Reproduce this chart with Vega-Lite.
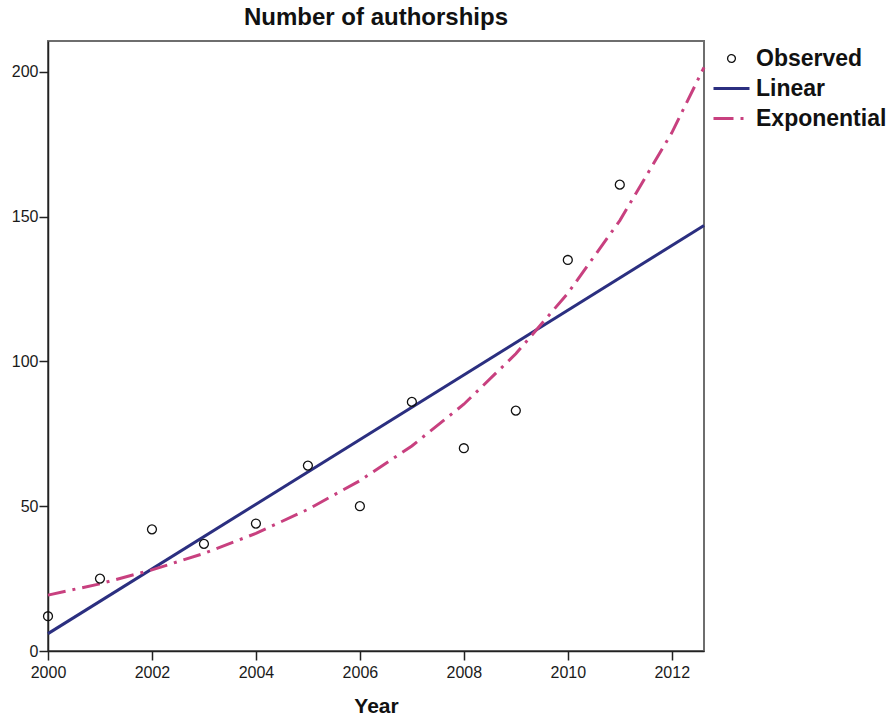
{
  "$schema": "https://vega.github.io/schema/vega-lite/v6.json",
  "width": 656,
  "height": 610,
  "autosize": {"type": "none"},
  "padding": {"left": 48, "top": 41, "right": 190, "bottom": 69},
  "background": "white",
  "config": {
    "font": "Liberation Sans",
    "view": {"stroke": "#6e6e6e", "strokeWidth": 2},
    "axis": {
      "grid": false,
      "labelFlush": false,
      "labelOverlap": false,
      "domainColor": "#222",
      "domainWidth": 1.5,
      "tickColor": "#222",
      "tickWidth": 1.5,
      "tickSize": 9,
      "labelFont": "Liberation Sans",
      "labelFontSize": 16,
      "labelColor": "#1a1a1a",
      "titleFont": "Liberation Sans",
      "titleFontSize": 21,
      "titleFontWeight": "bold",
      "titleColor": "#111"
    }
  },
  "title": {
    "text": "Number of authorships",
    "anchor": "middle",
    "font": "Liberation Sans",
    "fontSize": 24,
    "fontWeight": "bold",
    "color": "#111",
    "offset": 11
  },
  "data": {
    "values": [
      {"Year": 2000, "Value": 12, "Series": "Observed"},
      {"Year": 2001, "Value": 25, "Series": "Observed"},
      {"Year": 2002, "Value": 42, "Series": "Observed"},
      {"Year": 2003, "Value": 37, "Series": "Observed"},
      {"Year": 2004, "Value": 44, "Series": "Observed"},
      {"Year": 2005, "Value": 64, "Series": "Observed"},
      {"Year": 2006, "Value": 50, "Series": "Observed"},
      {"Year": 2007, "Value": 86, "Series": "Observed"},
      {"Year": 2008, "Value": 70, "Series": "Observed"},
      {"Year": 2009, "Value": 83, "Series": "Observed"},
      {"Year": 2010, "Value": 135, "Series": "Observed"},
      {"Year": 2011, "Value": 161, "Series": "Observed"},
      {"Year": 2000, "Value": 6.0, "Series": "Linear"},
      {"Year": 2012.62, "Value": 146.9, "Series": "Linear"},
      {"Year": 2000, "Value": 19.3, "Series": "Exponential"},
      {"Year": 2001, "Value": 23.2, "Series": "Exponential"},
      {"Year": 2002, "Value": 28.0, "Series": "Exponential"},
      {"Year": 2003, "Value": 33.7, "Series": "Exponential"},
      {"Year": 2004, "Value": 40.6, "Series": "Exponential"},
      {"Year": 2005, "Value": 48.9, "Series": "Exponential"},
      {"Year": 2006, "Value": 58.8, "Series": "Exponential"},
      {"Year": 2007, "Value": 70.8, "Series": "Exponential"},
      {"Year": 2008, "Value": 85.2, "Series": "Exponential"},
      {"Year": 2009, "Value": 102.6, "Series": "Exponential"},
      {"Year": 2010, "Value": 123.5, "Series": "Exponential"},
      {"Year": 2011, "Value": 148.6, "Series": "Exponential"},
      {"Year": 2012, "Value": 178.9, "Series": "Exponential"},
      {"Year": 2012.62, "Value": 201.5, "Series": "Exponential"}
    ]
  },
  "encoding": {
    "x": {
      "field": "Year",
      "type": "quantitative",
      "scale": {"domain": [2000, 2012.62], "nice": false, "zero": false},
      "axis": {"values": [2000, 2002, 2004, 2006, 2008, 2010, 2012], "format": "d", "title": "Year", "labelPadding": 4, "titlePadding": 15}
    },
    "y": {
      "field": "Value",
      "type": "quantitative",
      "scale": {"domain": [0, 210.6], "nice": false},
      "axis": {"values": [0, 50, 100, 150, 200], "title": null, "labelPadding": 1}
    },
    "color": {
      "field": "Series",
      "type": "nominal",
      "scale": {"domain": ["Observed", "Linear", "Exponential"], "range": ["#111111", "#2B2F80", "#C8407F"]},
      "legend": {
        "title": null,
        "orient": "right",
        "offset": 4,
        "padding": 6,
        "symbolSize": 1296,
        "symbolStrokeWidth": 3,
        "rowPadding": 6,
        "labelFont": "Liberation Sans",
        "labelFontSize": 23,
        "labelFontWeight": "bold",
        "labelColor": "#111",
        "labelOffset": 13,
        "encode": {
          "symbols": {
            "update": {
              "shape": {"signal": "datum.value === 'Observed' ? 'circle' : 'stroke'"},
              "size": {"signal": "datum.value === 'Observed' ? 60 : 1296"},
              "strokeWidth": {"signal": "datum.value === 'Observed' ? 1.3 : 3"},
              "strokeDash": {"signal": "datum.value === 'Exponential' ? [20, 7, 3, 7] : [1, 0]"},
              "fill": {"value": "transparent"}
            }
          }
        }
      }
    }
  },
  "layer": [
    {
      "transform": [{"filter": "datum.Series === 'Linear'"}],
      "mark": {"type": "line", "strokeWidth": 3}
    },
    {
      "transform": [{"filter": "datum.Series === 'Exponential'"}],
      "mark": {"type": "line", "strokeWidth": 3, "strokeDash": [18, 7, 3, 7], "strokeCap": "butt"}
    },
    {
      "transform": [{"filter": "datum.Series === 'Observed'"}],
      "mark": {"type": "point", "shape": "circle", "size": 80, "filled": false, "strokeWidth": 1.3, "opacity": 1}
    }
  ]
}
